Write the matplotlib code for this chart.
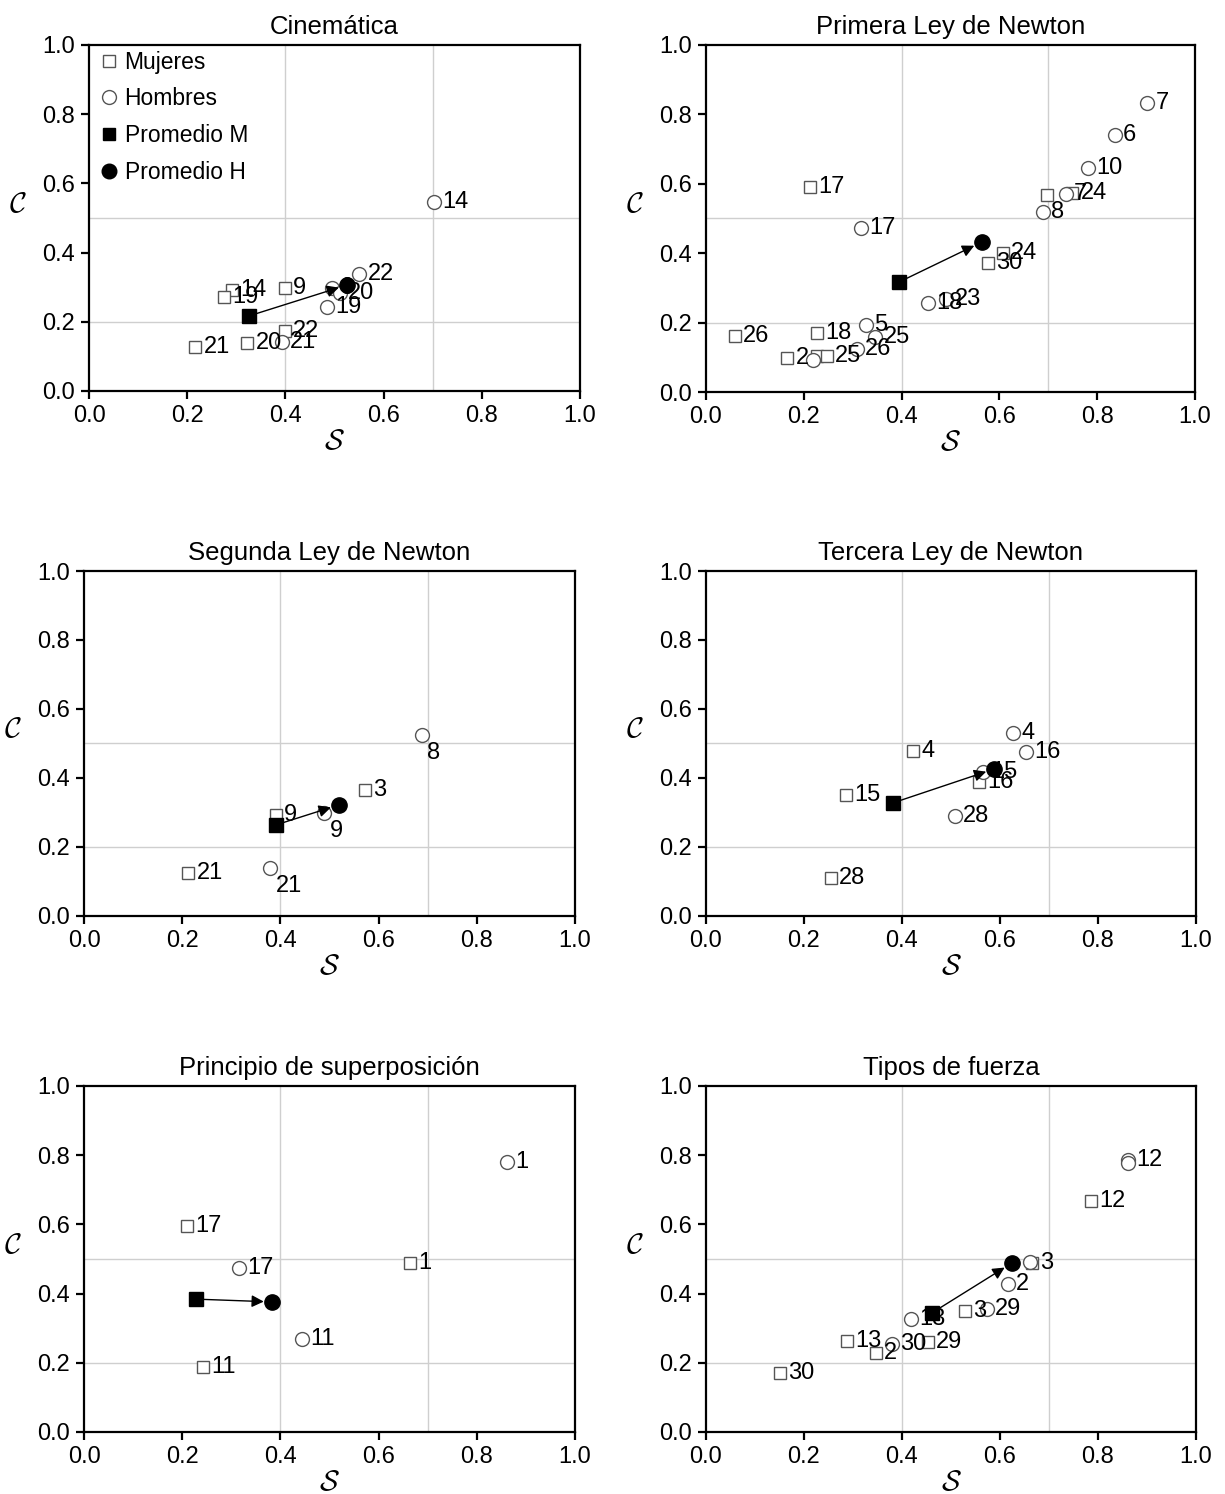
# -*- coding: utf-8 -*-
# Scatter panels: score S vs concentration C per topic, women vs men

import matplotlib
matplotlib.use('Agg')
import matplotlib.pyplot as plt
from matplotlib.lines import Line2D

plt.rcParams['font.family'] = 'Liberation Sans'
plt.rcParams['mathtext.fontset'] = 'cm'

# ---------------- data ----------------
titles = ['Cinemática', 'Primera Ley de Newton', 'Segunda Ley de Newton',
          'Tercera Ley de Newton', 'Principio de superposición', 'Tipos de fuerza']

# Cinemática
cin_m_x = [0.216, 0.322, 0.399, 0.399, 0.291, 0.275]
cin_m_y = [0.127, 0.139, 0.173, 0.298, 0.292, 0.272]
cin_m_lab = ['21', '20', '22', '9', '14', '19']
cin_h_x = [0.703, 0.550, 0.485, 0.495, 0.511, 0.393]
cin_h_y = [0.546, 0.338, 0.243, 0.298, 0.283, 0.142]
cin_h_lab = ['14', '22', '19', '9', '20', '21']
cin_avg = [(0.326, 0.217), (0.525, 0.306)]

# Primera Ley de Newton
pri_m_x = [0.213, 0.059, 0.227, 0.166, 0.227, 0.247, 0.697, 0.749, 0.607, 0.577]
pri_m_y = [0.591, 0.161, 0.170, 0.098, 0.104, 0.104, 0.568, 0.573, 0.401, 0.372]
pri_m_lab = ['17', '26', '18', '2', '', '25', '', '24', '24', '30']
pri_h_x = [0.317, 0.327, 0.346, 0.308, 0.219, 0.454, 0.491, 0.902, 0.836, 0.781, 0.689, 0.736]
pri_h_y = [0.473, 0.193, 0.159, 0.124, 0.092, 0.256, 0.268, 0.833, 0.741, 0.646, 0.519, 0.571]
pri_h_lab = ['17', '5', '25', '26', '', '18', '23', '7', '6', '10', '8', '7']
pri_avg = [(0.395, 0.317), (0.564, 0.432)]

# Segunda Ley de Newton
seg_m_x = [0.212, 0.391, 0.572]
seg_m_y = [0.125, 0.293, 0.365]
seg_m_lab = ['21', '9', '3']
seg_h_x = [0.379, 0.489, 0.688]
seg_h_y = [0.139, 0.299, 0.525]
seg_h_lab = ['21', '9', '8']
seg_avg = [(0.391, 0.264), (0.519, 0.322)]

# Tercera Ley de Newton
ter_m_x = [0.255, 0.286, 0.422, 0.557]
ter_m_y = [0.110, 0.351, 0.478, 0.388]
ter_m_lab = ['28', '15', '4', '16']
ter_h_x = [0.627, 0.653, 0.508, 0.565]
ter_h_y = [0.530, 0.475, 0.290, 0.417]
ter_h_lab = ['4', '16', '28', '15']
ter_avg = [(0.382, 0.328), (0.588, 0.426)]

# Principio de superposición
sup_m_x = [0.210, 0.664, 0.242]
sup_m_y = [0.595, 0.488, 0.188]
sup_m_lab = ['17', '1', '11']
sup_h_x = [0.861, 0.316, 0.444]
sup_h_y = [0.780, 0.474, 0.269]
sup_h_lab = ['1', '17', '11']
sup_avg = [(0.228, 0.384), (0.383, 0.376)]

# Tipos de fuerza
tip_m_x = [0.786, 0.665, 0.529, 0.453, 0.288, 0.347, 0.151]
tip_m_y = [0.668, 0.488, 0.350, 0.260, 0.263, 0.228, 0.171]
tip_m_lab = ['12', '3', '3', '29', '13', '2', '30']
tip_h_x = [0.861, 0.861, 0.661, 0.616, 0.573, 0.418, 0.380]
tip_h_y = [0.786, 0.778, 0.491, 0.428, 0.355, 0.327, 0.254]
tip_h_lab = ['12', '', '', '2', '29', '13', '30']
tip_avg = [(0.461, 0.344), (0.624, 0.488)]

panels = [
    (cin_m_x, cin_m_y, cin_m_lab, cin_h_x, cin_h_y, cin_h_lab, cin_avg),
    (pri_m_x, pri_m_y, pri_m_lab, pri_h_x, pri_h_y, pri_h_lab, pri_avg),
    (seg_m_x, seg_m_y, seg_m_lab, seg_h_x, seg_h_y, seg_h_lab, seg_avg),
    (ter_m_x, ter_m_y, ter_m_lab, ter_h_x, ter_h_y, ter_h_lab, ter_avg),
    (sup_m_x, sup_m_y, sup_m_lab, sup_h_x, sup_h_y, sup_h_lab, sup_avg),
    (tip_m_x, tip_m_y, tip_m_lab, tip_h_x, tip_h_y, tip_h_lab, tip_avg),
]

# labels that sit below-right of their marker (panel index, series)
below = {(2, 'h', '21'), (2, 'h', '9'), (2, 'h', '8')}

# axes rectangles (left, bottom, width, height) in figure fraction
rects = [
    (0.0727, 0.7383, 0.4008, 0.2316),
    (0.5763, 0.7376, 0.3992, 0.2323),
    (0.0686, 0.3869, 0.4008, 0.2309),
    (0.5763, 0.3869, 0.4000, 0.2309),
    (0.0686, 0.0415, 0.4008, 0.2316),
    (0.5763, 0.0415, 0.4000, 0.2316),
]

fs = 17
edge = '#555555'

fig = plt.figure(figsize=(12.25, 14.94), dpi=100)

for i, (mx, my, mlab, hx, hy, hlab, avg) in enumerate(panels):
    ax = fig.add_axes(rects[i])
    ax.set_xlim(0, 1)
    ax.set_ylim(0, 1)
    for g in [0.4, 0.7]:
        ax.axvline(g, color='#cfcfcf', lw=1.0, zorder=0)
    for g in [0.2, 0.5]:
        ax.axhline(g, color='#cfcfcf', lw=1.0, zorder=0)

    ax.plot(mx, my, 's', ms=8.5, mfc='white', mec=edge, mew=1.0, ls='none', zorder=3)
    ax.plot(hx, hy, 'o', ms=10, mfc='white', mec=edge, mew=1.0, ls='none', zorder=3)

    for series, xs, ys, labs in [('m', mx, my, mlab), ('h', hx, hy, hlab)]:
        for x, y, t in zip(xs, ys, labs):
            if not t:
                continue
            if (i, series, t) in below:
                ax.annotate(t, (x, y), xytext=(4, -5), textcoords='offset points',
                            ha='left', va='top', fontsize=fs, zorder=4)
            else:
                ax.annotate(t, (x, y), xytext=(6, 0), textcoords='offset points',
                            ha='left', va='center', fontsize=fs, zorder=4)

    (ax_m, ay_m), (ax_h, ay_h) = avg
    ax.annotate('', xy=(ax_h, ay_h), xytext=(ax_m, ay_m),
                arrowprops=dict(arrowstyle='-|>', color='black', lw=1.0,
                                mutation_scale=18, shrinkA=4, shrinkB=6), zorder=5)
    ax.plot([ax_m], [ay_m], 's', ms=10, color='black', zorder=6)
    ax.plot([ax_h], [ay_h], 'o', ms=11, color='black', zorder=6)

    ax.set_xticks([0.0, 0.2, 0.4, 0.6, 0.8, 1.0])
    ax.set_yticks([0.0, 0.2, 0.4, 0.6, 0.8, 1.0])
    ax.set_xticklabels(['0.0', '0.2', '0.4', '0.6', '0.8', '1.0'])
    ax.set_yticklabels(['0.0', '0.2', '0.4', '0.6', '0.8', '1.0'])
    ax.tick_params(direction='out', length=6, width=1.6, labelsize=fs, pad=4)
    for s in ax.spines.values():
        s.set_linewidth(1.6)

    ax.set_title(titles[i], fontsize=18.5, pad=8)
    ax.set_xlabel(r'$\mathcal{S}$', fontsize=21)
    ax.xaxis.set_label_coords(0.5, -0.105)
    ax.set_ylabel(r'$\mathcal{C}$', fontsize=21, rotation=0)
    ax.yaxis.set_label_coords(-0.145, 0.5)

    if i == 0:
        handles = [
            Line2D([], [], marker='s', ls='none', ms=8.5, mfc='white', mec=edge, mew=1.0),
            Line2D([], [], marker='o', ls='none', ms=10, mfc='white', mec=edge, mew=1.0),
            Line2D([], [], marker='s', ls='none', ms=9, color='black'),
            Line2D([], [], marker='o', ls='none', ms=10.5, color='black'),
        ]
        ax.legend(handles, ['Mujeres', 'Hombres', 'Promedio M', 'Promedio H'],
                  loc='upper left', frameon=False, fontsize=16.5, handletextpad=0.1,
                  handlelength=1.2, labelspacing=0.6, borderaxespad=0.1,
                  borderpad=0.15)

fig.savefig('out.png', dpi=100)
